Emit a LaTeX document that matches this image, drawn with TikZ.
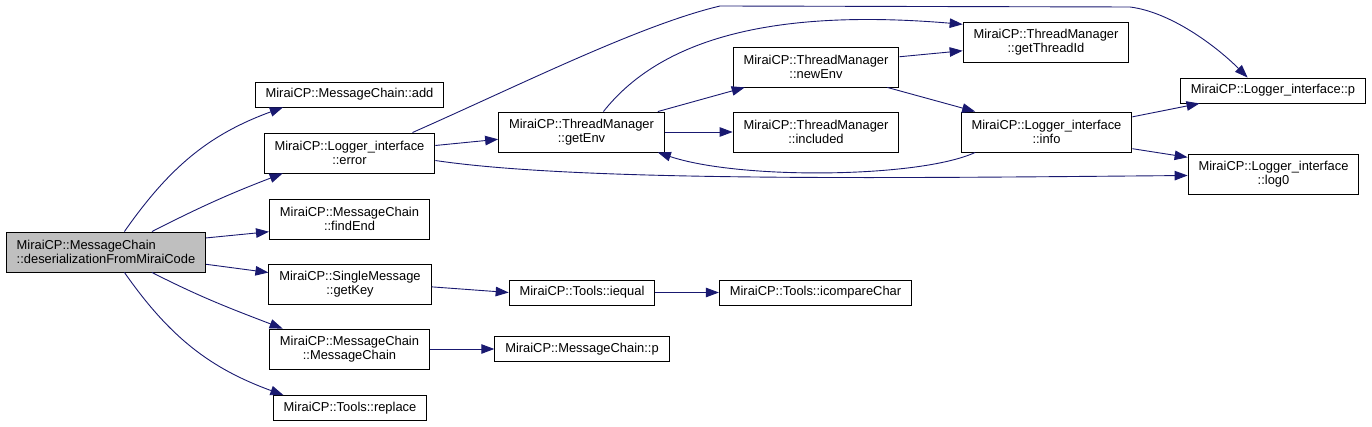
\documentclass[tikz,border=0pt]{standalone}
\usepackage{fontspec}
\setmainfont{Liberation Sans}
\usetikzlibrary{arrows.meta}
\definecolor{Edge}{HTML}{191970}
\definecolor{RootFill}{HTML}{BFBFBF}
\tikzset{
 func/.style={draw=black, line width=0.9pt, fill=white, align=center, inner xsep=10.5pt, inner ysep=1pt, minimum height=25pt, font=\fontsize{12.9}{14}\selectfont},
 func2/.style={func, minimum height=40pt},
 rootfunc/.style={func2, fill=RootFill, align=left},
 call/.style={-{Triangle[length=13pt,width=9.5pt]}, draw=Edge, line width=0.9pt}
}

\begin{document}
\begin{tikzpicture}[x=1pt,y=-1pt]
\useasboundingbox (0,0) rectangle (1372,427);
\node[rootfunc] (root) at (106,252) {MiraiCP::MessageChain\\::deserializationFromMiraiCode};
\node[func] (add) at (349.5,94.5) {MiraiCP::MessageChain::add};
\node[func2] (error) at (349.5,153) {MiraiCP::Logger\_interface\\::error};
\node[func2] (findEnd) at (349.5,219) {MiraiCP::MessageChain\\::findEnd};
\node[func2] (getKey) at (350,284) {MiraiCP::SingleMessage\\::getKey};
\node[func2] (msgChain) at (349.5,349) {MiraiCP::MessageChain\\::MessageChain};
\node[func] (replace) at (350,408) {MiraiCP::Tools::replace};
\node[func2] (getEnv) at (581.5,132) {MiraiCP::ThreadManager\\::getEnv};
\node[func2] (newEnv) at (816,67) {MiraiCP::ThreadManager\\::newEnv};
\node[func2] (included) at (816,132) {MiraiCP::ThreadManager\\::included};
\node[func2] (getThreadId) at (1046,42) {MiraiCP::ThreadManager\\::getThreadId};
\node[func] (logP) at (1273,90.5) {MiraiCP::Logger\_interface::p};
\node[func2] (info) at (1046.5,132) {MiraiCP::Logger\_interface\\::info};
\node[func2] (log0) at (1273.5,174) {MiraiCP::Logger\_interface\\::log0};
\node[func] (iequal) at (582,292.5) {MiraiCP::Tools::iequal};
\node[func] (icompare) at (815.5,292.5) {MiraiCP::Tools::icompareChar};
\node[func] (msgP) at (582,349) {MiraiCP::MessageChain::p};

\draw[call] (root.48) to[out=55,in=200] (add.191);
\draw[call] (root.24) to[out=27,in=201] (error.197);
\draw[call] (root.8) -- (findEnd.189);
\draw[call] (root.-7) -- (getKey.172);
\draw[call] (root.-24) to[out=-27,in=159] (msgChain.163);
\draw[call] (root.-48) to[out=-55,in=160] (replace.169);

\draw[call] (error.5) -- (getEnv.185);
\draw[call] (error.18) .. controls (520,85) and (640,25) .. (720,6) -- (1130,7) .. controls (1170,12) and (1215,45) .. (logP.153);
\draw[call] (error.-5) .. controls (580,182) and (900,178) .. (log0.181);

\draw[call] (getEnv.43) .. controls (660,40) and (770,8) .. (getThreadId.168);
\draw[call] (getEnv.15) -- (newEnv.196);
\draw[call] (getEnv.east) -- (included.west);
\draw[call] (newEnv.7) -- (getThreadId.186);
\draw[call] (newEnv.-16) -- (info.164);
\draw[call] (info.196) .. controls (920,178) and (740,180) .. (getEnv.-15);
\draw[call] (info.10) -- (logP.190);
\draw[call] (info.-11) -- (log0.169);

\draw[call] (getKey.-2) -- (iequal.west);
\draw[call] (iequal.east) -- (icompare.west);
\draw[call] (msgChain.east) -- (msgP.west);
\end{tikzpicture}
\end{document}
